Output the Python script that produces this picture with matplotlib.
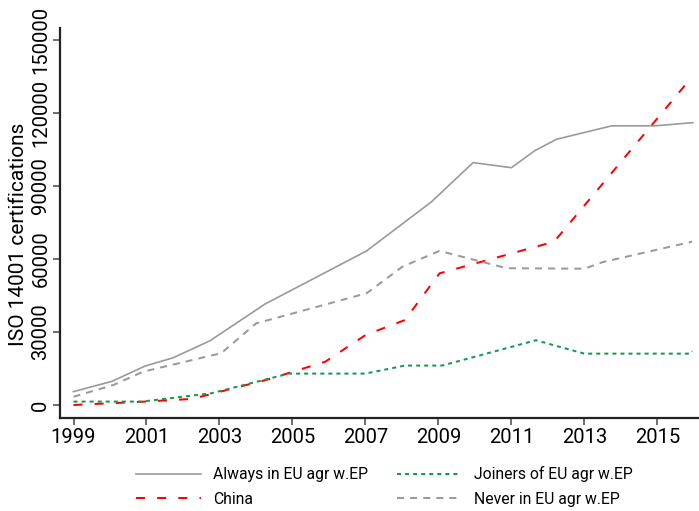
import matplotlib
matplotlib.use('Agg')
import matplotlib.pyplot as plt

plt.rcParams['font.family'] = ['Roboto', 'DejaVu Sans']

# values (x in years, y in certifications)
always_x = [1999, 2000.05, 2000.96, 2001.73, 2002.74, 2004.25, 2007.03, 2008.81,
            2009.95, 2011.0, 2011.64, 2012.24, 2013.75, 2014.93, 2015.97]
always_y = [5500, 9700, 16000, 19400, 26400, 41500, 63300, 83500,
            99600, 97500, 104500, 109200, 114700, 114700, 116000]

china_x = [1999, 2000.92, 2002.25, 2004.33, 2005.9, 2007.01, 2008.08, 2009.03,
           2012.17, 2015.95]
china_y = [0, 1360, 2500, 10500, 17800, 28800, 34900, 54100, 67100, 134800]

joiners_x = [1999, 2000.87, 2002.77, 2004.9, 2007.0, 2008.08, 2009.1, 2011.67,
             2013.0, 2015.9, 2015.95]
joiners_y = [1400, 1400, 4800, 12900, 12900, 16200, 16200, 26600,
             21100, 21100, 22200]

never_x = [1999, 2000.09, 2000.91, 2003.05, 2004.0, 2007.03, 2008.02, 2009.03,
           2010.87, 2013.0, 2013.5, 2015.95]
never_y = [3400, 8200, 13700, 21300, 33500, 45900, 56900, 63300,
           56200, 56000, 58700, 67100]

xticks = [1999, 2001, 2003, 2005, 2007, 2009, 2011, 2013, 2015]
yticks = [0, 30000, 60000, 90000, 120000, 150000]

fig = plt.figure(figsize=(6.99, 5.11), dpi=100)
ax = fig.add_axes([60 / 699, 93 / 511, 639 / 699, 390 / 511])

l1, = ax.plot(always_x, always_y, color='#9a9a9a', lw=1.2, ls='-')
l2, = ax.plot(china_x, china_y, color='#ff0000', lw=1.45, ls=(0, (4.5, 6)))
l3, = ax.plot(joiners_x, joiners_y, color='#159a4c', lw=1.45, ls=(0, (2, 2)))
l4, = ax.plot(never_x, never_y, color='#9a9a9a', lw=1.45, ls=(0, (3.5, 3)))

ax.set_xlim(1998.63, 2016.14)
ax.set_ylim(-5340, 154900)
ax.set_xticks(xticks)
ax.set_yticks(yticks)
ax.set_yticklabels([str(v) for v in yticks], rotation=90, va='center')

for s in ['top', 'right']:
    ax.spines[s].set_visible(False)
for s in ['left', 'bottom']:
    ax.spines[s].set_linewidth(1.6)
    ax.spines[s].set_color('#222222')

ax.tick_params(axis='both', length=5, width=1.2, color='#555555',
               labelsize=14.5, pad=2)
ax.set_ylabel('ISO 14001 certifications', fontsize=15)
ax.yaxis.set_label_coords(-0.05, 0.47)

fig.legend([l1, l2, l3, l4],
           ['Always in EU agr w.EP', 'China', 'Joiners of EU agr w.EP',
            'Never in EU agr w.EP'],
           ncol=2, frameon=False, fontsize=11.3, loc='center',
           bbox_to_anchor=(0.55, 0.048), handlelength=4.1, handletextpad=0.8,
           columnspacing=1.85, labelspacing=0.6)

fig.savefig('out.png', dpi=100)
